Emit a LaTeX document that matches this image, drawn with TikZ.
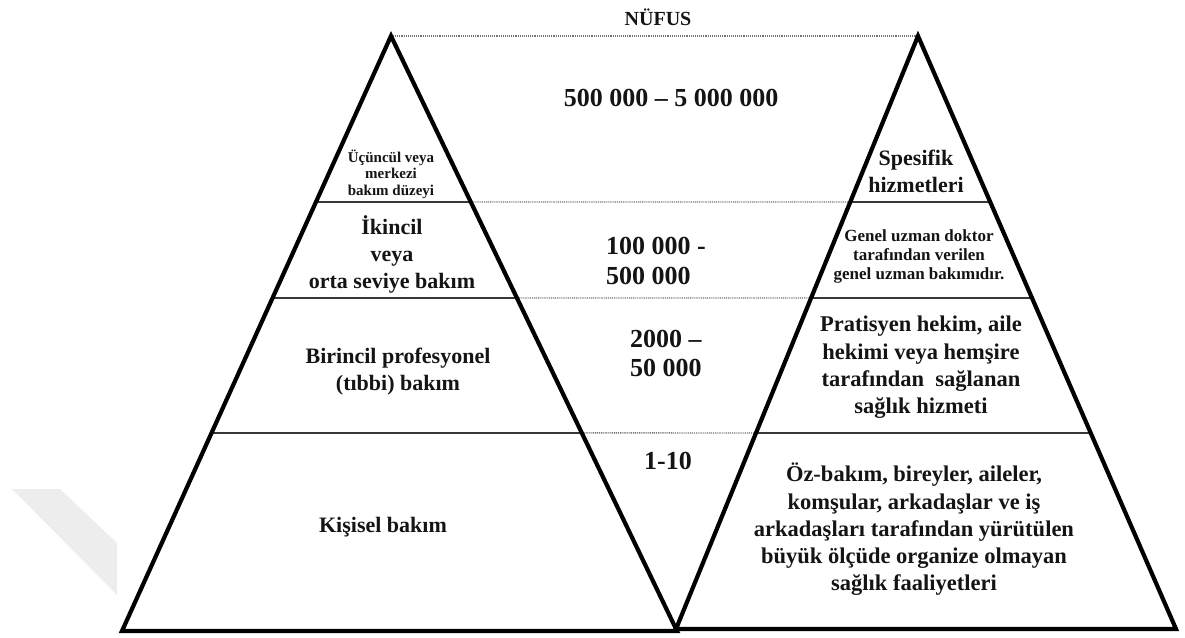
\documentclass[tikz,border=0pt]{standalone}
\usepackage{fontspec}
\setmainfont{Liberation Serif}
\usetikzlibrary{calc}
\begin{document}
\begin{tikzpicture}[x=1pt,y=-1pt,
  edge/.style={line width=4.2pt, line join=miter, draw=black},
  tier/.style={line width=2.2pt, draw=black!78},
  guide/.style={line width=1.4pt, draw=black!55, dash pattern=on 1pt off 0.9pt},
  lbl/.style={inner sep=0pt, align=center, text=black!92},
  f15/.style={lbl, font=\fontsize{15}{16.5}\selectfont\bfseries},
  f17/.style={lbl, font=\fontsize{17}{19}\selectfont\bfseries},
  f20/.style={lbl, font=\fontsize{20}{24}\selectfont\bfseries},
  f22/.style={lbl, font=\fontsize{22}{27}\selectfont\bfseries},
  f23/.style={lbl, font=\fontsize{22.5}{27.3}\selectfont\bfseries},
  num/.style={lbl, font=\fontsize{26}{29.5}\selectfont\bfseries},
  numl/.style={num, align=left, anchor=west}]
\useasboundingbox (0,0) rectangle (1185,637);

% faint mark in the lower left corner
\fill[black!7] (12,489) -- (60,489) -- (117,543) -- (117,595) -- cycle;

% corners of the two pyramids
\coordinate (A1) at (391,36);
\coordinate (B1L) at (122,631);
\coordinate (B1R) at (677,631);
\coordinate (A2) at (918,36);
\coordinate (B2L) at (676,629);
\coordinate (B2R) at (1176,629);

% tier boundaries on both pyramids
\foreach \k/\t/\u in {1/0.279/0.280, 2/0.4403/0.4418, 3/0.667/0.6695}{
  \coordinate (L\k a) at ($(A1)!\t!(B1L)$);
  \coordinate (L\k b) at ($(A1)!\t!(B1R)$);
  \coordinate (R\k a) at ($(A2)!\u!(B2L)$);
  \coordinate (R\k b) at ($(A2)!\u!(B2R)$);
}

% dotted guides between the pyramids
\draw[guide] (A1) -- (A2);
\foreach \k in {1,2,3}{
  \draw[guide] (L\k b) -- (R\k a);
}

% solid tier lines
\foreach \k in {1,2,3}{
  \draw[tier] (L\k a) -- (L\k b);
  \draw[tier] (R\k a) -- (R\k b);
}

% the two pyramids
\draw[edge] (A1) -- (B1R) -- (B1L) -- cycle;
\draw[edge] (A2) -- (B2R) -- (B2L) -- cycle;

% heading and population ranges
\node[f20] (nufus) at (658,17) {NÜFUS};
\node[num] (pop1) at (671,98) {500 000 – 5 000 000};
\node[numl] (pop2) at (606,261) {100 000 -\\500 000};
\node[numl] (pop3) at (630,353.5) {2000 –\\50 000};
\node[num] (pop4) at (668,461) {1-10};

% levels of care, left pyramid
\node[f15] (lv1) at (391,174) {Üçüncül veya\\merkezi\\bakım düzeyi};
\node[f22] (lv2) at (392,254) {İkincil\\veya\\orta seviye bakım};
\node[f22] (lv3) at (398,371.5) {Birincil profesyonel\\(tıbbi) bakım};
\node[f22] (lv4) at (383,527) {Kişisel bakım};

% services, right pyramid
\node[f22] (sv1) at (916,171) {Spesifik\\hizmetleri};
\node[f17] (sv2) at (919,256) {Genel uzman doktor\\tarafından verilen\\genel uzman bakımıdır.};
\node[f23] (sv3) at (921,367.5) {Pratisyen hekim, aile\\hekimi veya hemşire\\tarafından~ sağlanan\\sağlık hizmeti};
\node[f23] (sv4) at (914,529.5) {Öz-bakım, bireyler, aileler,\\komşular, arkadaşlar ve iş\\arkadaşları tarafından yürütülen\\büyük ölçüde organize olmayan\\sağlık faaliyetleri};
\end{tikzpicture}
\end{document}
